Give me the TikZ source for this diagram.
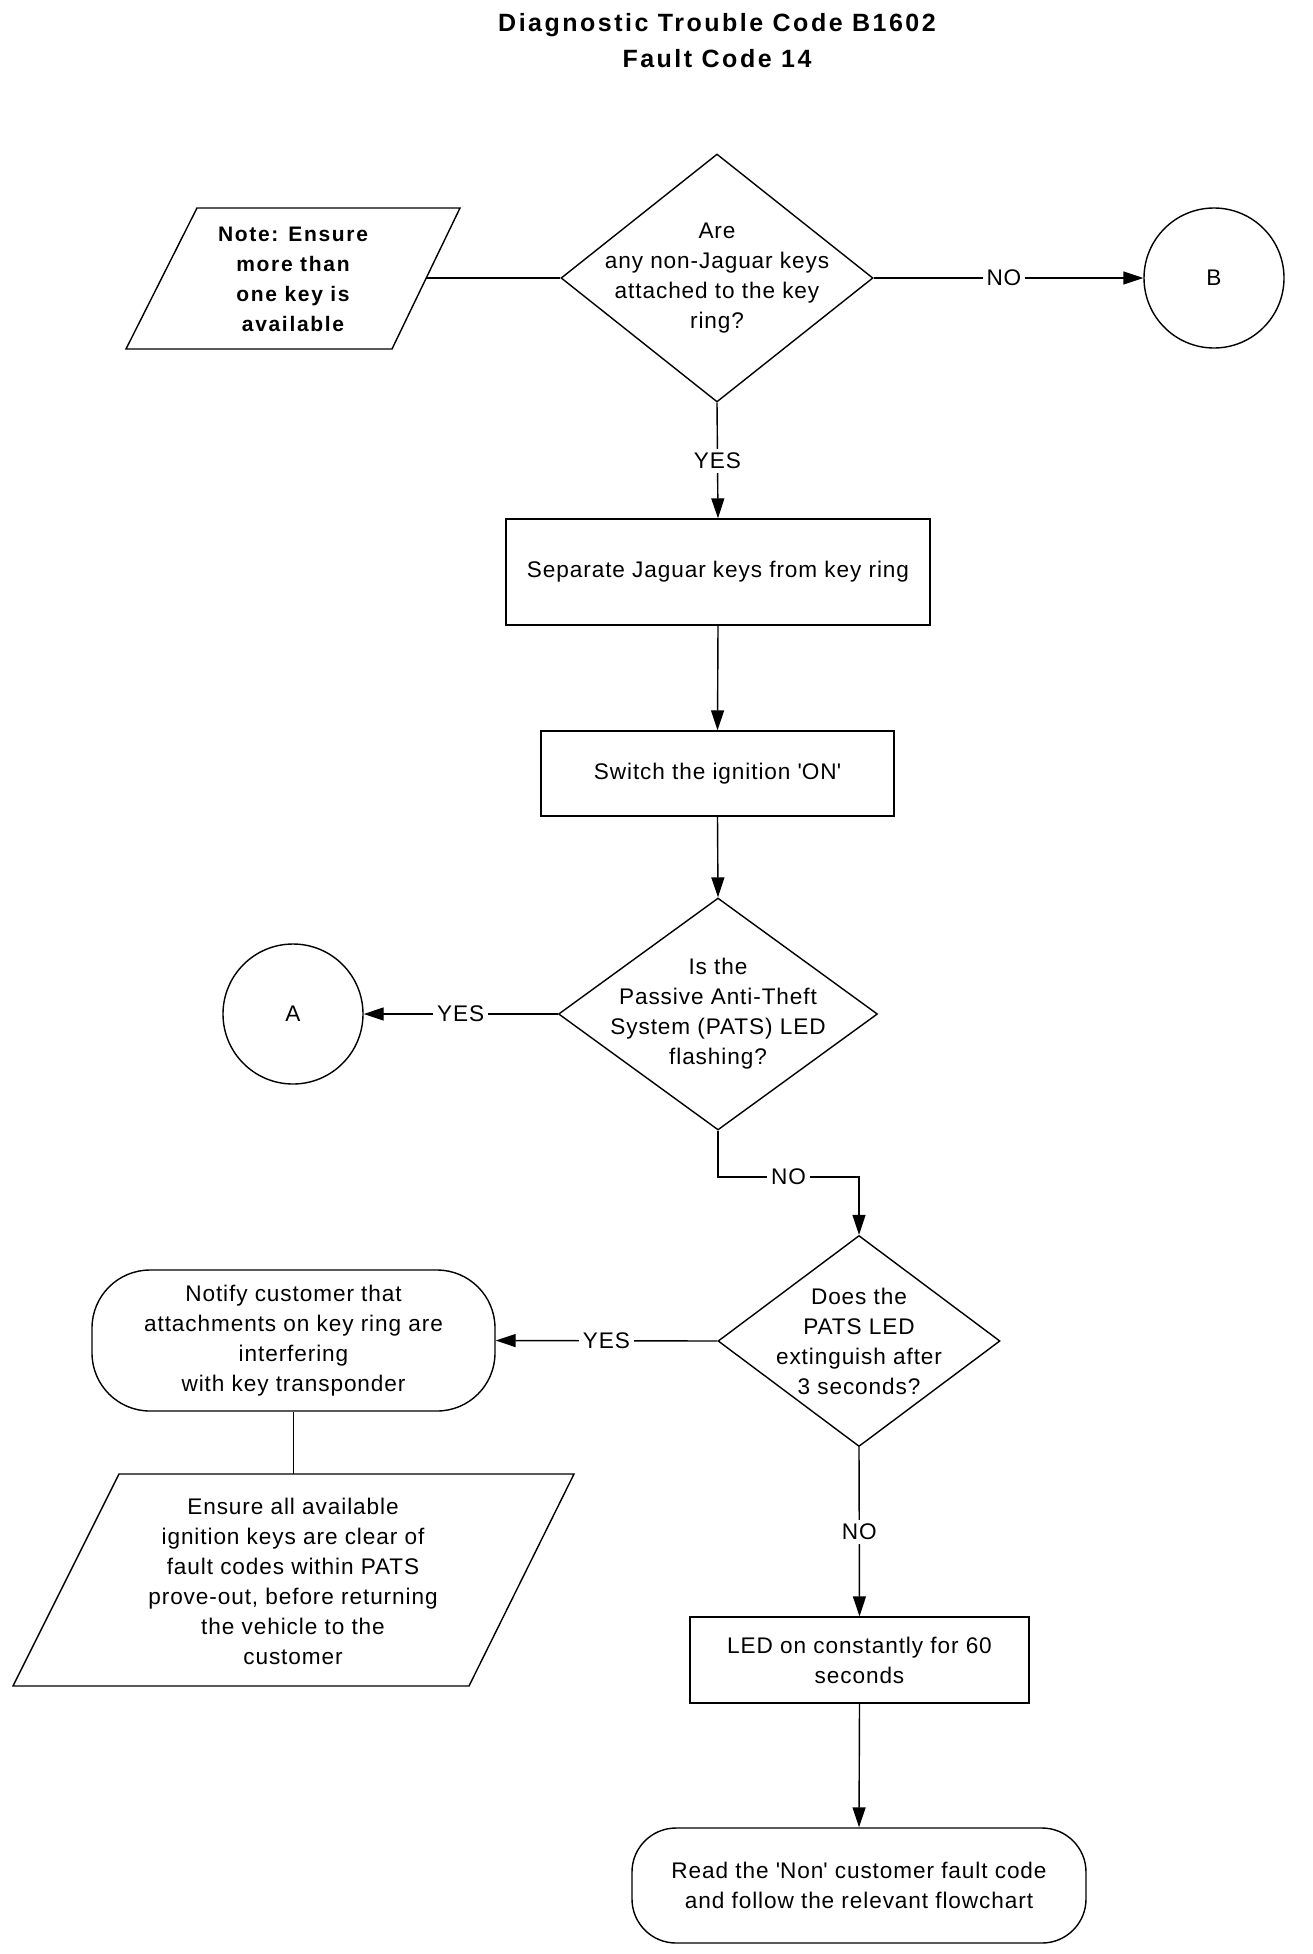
\documentclass[tikz,border=0pt]{standalone}
\usepackage{fontspec}
\setmainfont{Liberation Sans}[LetterSpace=4]
\newfontfamily\notefont{Liberation Sans}[LetterSpace=8]
\newfontfamily\titlefont{Liberation Sans}[LetterSpace=10]
\usetikzlibrary{shapes.geometric,arrows.meta}
\begin{document}
\begin{tikzpicture}[x=0.5pt,y=-0.5pt,line width=0.7pt,
  txtfont/.style={font=\fontsize{11.3}{15}\selectfont},
  txt/.style={txtfont,align=center,inner sep=0pt},
  txtb/.style={font=\notefont\bfseries\fontsize{10.5}{15}\selectfont,align=center,inner sep=0pt},
  boxnode/.style={draw,rectangle,inner sep=0pt,align=center,txtfont},
  dia/.style={draw,diamond,inner sep=0pt},
  conn/.style={draw,circle,inner sep=0pt,minimum size=70pt,txtfont},
  arr/.style={-{Triangle[length=10pt,width=6.5pt]}},
  lbl/.style={fill=white,inner sep=2pt,txtfont},
  ttl/.style={font=\titlefont\bfseries\fontsize{12.5}{14}\selectfont,anchor=base,inner sep=0pt}]
\useasboundingbox (0,0) rectangle (1312,1954);

% title
\node[ttl] (t1) at (717,32) {Diagnostic Trouble Code B1602};
\node[ttl] (t2) at (717,67) {Fault Code 14};

% note parallelogram
\draw (197,208) -- (460,208) -- (392,349) -- (126,349) -- cycle;
\coordinate (noteR) at (426,278);
\node[txtb] (note) at (293,279) {Note: Ensure\\more than\\one key is\\available};

% decision 1
\node[dia,minimum width=156pt,minimum height=124pt] (d1) at (717,278) {};
\node[txt] (d1t) at (d1.center) {Are\\any non-Jaguar keys\\attached to the key\\ring?};
\node[conn] (B) at (1214,278) {B};

\draw (noteR) -- (d1.west);
\draw[arr] (d1.east) -- node[lbl,pos=0.483] {NO} (B.west);

% boxes
\node[boxnode,minimum width=212pt,minimum height=53pt] (s1) at (718,572) {Separate Jaguar keys from key ring};
\node[boxnode,minimum width=176.5pt,minimum height=42.5pt] (s2) at (717.5,773.5) {Switch the ignition \textquotesingle ON\textquotesingle};
\draw[arr] (d1.south) -- node[lbl] {YES} (s1.north);
\draw[arr] (s1.south) -- (s2.north);

% decision 2
\node[dia,minimum width=159.5pt,minimum height=116pt] (d2) at (718,1014) {};
\node[txt] (d2t) at (d2.center) {Is the\\Passive Anti-Theft\\System (PATS) LED\\flashing?};
\draw[arr] (s2.south) -- (d2.north);
\node[conn] (A) at (293,1014) {A};
\draw[arr] (d2.west) -- node[lbl] {YES} (A.east);

% decision 3
\node[dia,minimum width=141pt,minimum height=105.5pt] (d3) at (859,1341) {};
\node[txt] (d3t) at (d3.center) {Does the\\PATS LED\\extinguish after\\3 seconds?};
\coordinate (k1) at (718,1177);
\coordinate (k2) at (859,1177);
\draw[arr] (d2.south) -- (k1) -- node[lbl] {NO} (k2) -- (d3.north);

% notify terminal
\node[boxnode,rounded corners=29pt,minimum width=201.5pt,minimum height=70.5pt] (notify) at (293.5,1340.5)
  {Notify customer that\\attachments on key ring are\\interfering\\with key transponder};
\draw[arr] (d3.west) -- node[lbl] {YES} (notify.east);

% ensure parallelogram
\draw (119,1474) -- (574,1474) -- (469,1686) -- (13,1686) -- cycle;
\coordinate (p2top) at (293.5,1474);
\node[txt] (p2) at (293,1581) {Ensure all available\\ignition keys are clear of\\fault codes within PATS\\prove-out, before returning\\the vehicle to the\\customer};
\draw (notify.south) -- (p2top);

% LED box
\node[boxnode,minimum width=169.5pt,minimum height=43pt] (led) at (859.5,1660) {LED on constantly for 60\\seconds};
\draw[arr] (d3.south) -- node[lbl] {NO} (led.north);

% final terminal
\node[boxnode,rounded corners=22pt,minimum width=227pt,minimum height=57.5pt] (fin) at (859,1885.5)
  {Read the \textquotesingle Non\textquotesingle{} customer fault code\\and follow the relevant flowchart};
\draw[arr] (led.south) -- (fin.north);
\end{tikzpicture}
\end{document}
